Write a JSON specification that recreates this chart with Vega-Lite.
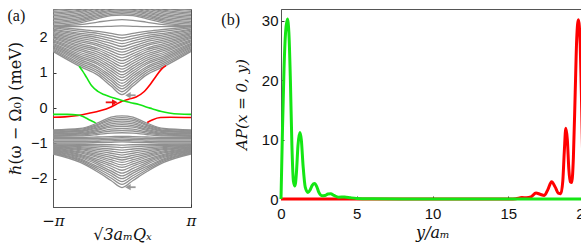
{
  "$schema": "https://vega.github.io/schema/vega-lite/v6.json",
  "padding": {"left": 6, "top": 7, "right": 0, "bottom": 0},
  "spacing": 23,
  "config": {
    "view": {"stroke": "#555", "strokeWidth": 1},
    "axis": {"grid": false, "domainColor": "#555", "tickColor": "#333", "labelColor": "#111", "titleColor": "#111", "titleFontWeight": "normal"}
  },
  "datasets": {
    "gray": [
{"g":"A1","k":-3.1416,"e":1.6},{"g":"A1","k":-1.9,"e":1.17},{"g":"A1","k":-1.1,"e":0.93},{"g":"A1","k":-0.5,"e":0.62},{"g":"A1","k":0,"e":0.38},{"g":"A1","k":0.5,"e":0.62},{"g":"A1","k":1.1,"e":0.93},{"g":"A1","k":1.9,"e":1.17},{"g":"A1","k":3.1416,"e":1.6},
{"g":"A2","k":-3.1416,"e":1.63},{"g":"A2","k":-1.9,"e":1.22},{"g":"A2","k":-1.1,"e":0.99},{"g":"A2","k":-0.5,"e":0.69},{"g":"A2","k":0,"e":0.46},{"g":"A2","k":0.5,"e":0.69},{"g":"A2","k":1.1,"e":0.99},{"g":"A2","k":1.9,"e":1.22},{"g":"A2","k":3.1416,"e":1.63},
{"g":"A3","k":-3.1416,"e":1.67},{"g":"A3","k":-1.9,"e":1.27},{"g":"A3","k":-1.1,"e":1.05},{"g":"A3","k":-0.5,"e":0.77},{"g":"A3","k":0,"e":0.54},{"g":"A3","k":0.5,"e":0.77},{"g":"A3","k":1.1,"e":1.05},{"g":"A3","k":1.9,"e":1.27},{"g":"A3","k":3.1416,"e":1.67},
{"g":"A4","k":-3.1416,"e":1.7},{"g":"A4","k":-1.9,"e":1.32},{"g":"A4","k":-1.1,"e":1.11},{"g":"A4","k":-0.5,"e":0.84},{"g":"A4","k":0,"e":0.62},{"g":"A4","k":0.5,"e":0.84},{"g":"A4","k":1.1,"e":1.11},{"g":"A4","k":1.9,"e":1.32},{"g":"A4","k":3.1416,"e":1.7},
{"g":"A5","k":-3.1416,"e":1.73},{"g":"A5","k":-1.9,"e":1.37},{"g":"A5","k":-1.1,"e":1.16},{"g":"A5","k":-0.5,"e":0.91},{"g":"A5","k":0,"e":0.7},{"g":"A5","k":0.5,"e":0.91},{"g":"A5","k":1.1,"e":1.16},{"g":"A5","k":1.9,"e":1.37},{"g":"A5","k":3.1416,"e":1.73},
{"g":"A6","k":-3.1416,"e":1.77},{"g":"A6","k":-1.9,"e":1.42},{"g":"A6","k":-1.1,"e":1.23},{"g":"A6","k":-0.5,"e":0.98},{"g":"A6","k":0,"e":0.78},{"g":"A6","k":0.5,"e":0.98},{"g":"A6","k":1.1,"e":1.23},{"g":"A6","k":1.9,"e":1.42},{"g":"A6","k":3.1416,"e":1.77},
{"g":"A7","k":-3.1416,"e":1.8},{"g":"A7","k":-1.9,"e":1.47},{"g":"A7","k":-1.1,"e":1.28},{"g":"A7","k":-0.5,"e":1.05},{"g":"A7","k":0,"e":0.86},{"g":"A7","k":0.5,"e":1.05},{"g":"A7","k":1.1,"e":1.28},{"g":"A7","k":1.9,"e":1.47},{"g":"A7","k":3.1416,"e":1.8},
{"g":"A8","k":-3.1416,"e":1.83},{"g":"A8","k":-1.9,"e":1.52},{"g":"A8","k":-1.1,"e":1.34},{"g":"A8","k":-0.5,"e":1.12},{"g":"A8","k":0,"e":0.94},{"g":"A8","k":0.5,"e":1.12},{"g":"A8","k":1.1,"e":1.34},{"g":"A8","k":1.9,"e":1.52},{"g":"A8","k":3.1416,"e":1.83},
{"g":"A9","k":-3.1416,"e":1.87},{"g":"A9","k":-1.9,"e":1.57},{"g":"A9","k":-1.1,"e":1.4},{"g":"A9","k":-0.5,"e":1.19},{"g":"A9","k":0,"e":1.02},{"g":"A9","k":0.5,"e":1.19},{"g":"A9","k":1.1,"e":1.4},{"g":"A9","k":1.9,"e":1.57},{"g":"A9","k":3.1416,"e":1.87},
{"g":"A10","k":-3.1416,"e":1.9},{"g":"A10","k":-1.9,"e":1.62},{"g":"A10","k":-1.1,"e":1.46},{"g":"A10","k":-0.5,"e":1.26},{"g":"A10","k":0,"e":1.1},{"g":"A10","k":0.5,"e":1.26},{"g":"A10","k":1.1,"e":1.46},{"g":"A10","k":1.9,"e":1.62},{"g":"A10","k":3.1416,"e":1.9},
{"g":"A11","k":-3.1416,"e":1.93},{"g":"A11","k":-1.9,"e":1.67},{"g":"A11","k":-1.1,"e":1.52},{"g":"A11","k":-0.5,"e":1.33},{"g":"A11","k":0,"e":1.18},{"g":"A11","k":0.5,"e":1.33},{"g":"A11","k":1.1,"e":1.52},{"g":"A11","k":1.9,"e":1.67},{"g":"A11","k":3.1416,"e":1.93},
{"g":"A12","k":-3.1416,"e":1.97},{"g":"A12","k":-1.9,"e":1.72},{"g":"A12","k":-1.1,"e":1.58},{"g":"A12","k":-0.5,"e":1.4},{"g":"A12","k":0,"e":1.26},{"g":"A12","k":0.5,"e":1.4},{"g":"A12","k":1.1,"e":1.58},{"g":"A12","k":1.9,"e":1.72},{"g":"A12","k":3.1416,"e":1.97},
{"g":"A13","k":-3.1416,"e":2.0},{"g":"A13","k":-1.9,"e":1.77},{"g":"A13","k":-1.1,"e":1.64},{"g":"A13","k":-0.5,"e":1.47},{"g":"A13","k":0,"e":1.34},{"g":"A13","k":0.5,"e":1.47},{"g":"A13","k":1.1,"e":1.64},{"g":"A13","k":1.9,"e":1.77},{"g":"A13","k":3.1416,"e":2.0},
{"g":"A14","k":-3.1416,"e":2.03},{"g":"A14","k":-1.9,"e":1.82},{"g":"A14","k":-1.1,"e":1.69},{"g":"A14","k":-0.5,"e":1.54},{"g":"A14","k":0,"e":1.42},{"g":"A14","k":0.5,"e":1.54},{"g":"A14","k":1.1,"e":1.69},{"g":"A14","k":1.9,"e":1.82},{"g":"A14","k":3.1416,"e":2.03},
{"g":"A15","k":-3.1416,"e":2.07},{"g":"A15","k":-1.9,"e":1.87},{"g":"A15","k":-1.1,"e":1.76},{"g":"A15","k":-0.5,"e":1.61},{"g":"A15","k":0,"e":1.5},{"g":"A15","k":0.5,"e":1.61},{"g":"A15","k":1.1,"e":1.76},{"g":"A15","k":1.9,"e":1.87},{"g":"A15","k":3.1416,"e":2.07},
{"g":"A16","k":-3.1416,"e":2.1},{"g":"A16","k":-1.9,"e":1.92},{"g":"A16","k":-1.1,"e":1.81},{"g":"A16","k":-0.5,"e":1.68},{"g":"A16","k":0,"e":1.58},{"g":"A16","k":0.5,"e":1.68},{"g":"A16","k":1.1,"e":1.81},{"g":"A16","k":1.9,"e":1.92},{"g":"A16","k":3.1416,"e":2.1},
{"g":"A17","k":-3.1416,"e":2.13},{"g":"A17","k":-1.9,"e":1.97},{"g":"A17","k":-1.1,"e":1.87},{"g":"A17","k":-0.5,"e":1.75},{"g":"A17","k":0,"e":1.66},{"g":"A17","k":0.5,"e":1.75},{"g":"A17","k":1.1,"e":1.87},{"g":"A17","k":1.9,"e":1.97},{"g":"A17","k":3.1416,"e":2.13},
{"g":"A18","k":-3.1416,"e":2.17},{"g":"A18","k":-1.9,"e":2.02},{"g":"A18","k":-1.1,"e":1.93},{"g":"A18","k":-0.5,"e":1.83},{"g":"A18","k":0,"e":1.74},{"g":"A18","k":0.5,"e":1.83},{"g":"A18","k":1.1,"e":1.93},{"g":"A18","k":1.9,"e":2.02},{"g":"A18","k":3.1416,"e":2.17},
{"g":"A19","k":-3.1416,"e":2.2},{"g":"A19","k":-1.9,"e":2.07},{"g":"A19","k":-1.1,"e":1.99},{"g":"A19","k":-0.5,"e":1.9},{"g":"A19","k":0,"e":1.82},{"g":"A19","k":0.5,"e":1.9},{"g":"A19","k":1.1,"e":1.99},{"g":"A19","k":1.9,"e":2.07},{"g":"A19","k":3.1416,"e":2.2},
{"g":"A20","k":-3.1416,"e":2.23},{"g":"A20","k":-1.9,"e":2.11},{"g":"A20","k":-1.1,"e":2.05},{"g":"A20","k":-0.5,"e":1.97},{"g":"A20","k":0,"e":1.9},{"g":"A20","k":0.5,"e":1.97},{"g":"A20","k":1.1,"e":2.05},{"g":"A20","k":1.9,"e":2.11},{"g":"A20","k":3.1416,"e":2.23},
{"g":"A21","k":-3.1416,"e":2.27},{"g":"A21","k":-1.9,"e":2.17},{"g":"A21","k":-1.1,"e":2.11},{"g":"A21","k":-0.5,"e":2.04},{"g":"A21","k":0,"e":1.98},{"g":"A21","k":0.5,"e":2.04},{"g":"A21","k":1.1,"e":2.11},{"g":"A21","k":1.9,"e":2.17},{"g":"A21","k":3.1416,"e":2.27},
{"g":"A22","k":-3.1416,"e":2.3},{"g":"A22","k":-1.9,"e":2.22},{"g":"A22","k":-1.1,"e":2.17},{"g":"A22","k":-0.5,"e":2.11},{"g":"A22","k":0,"e":2.06},{"g":"A22","k":0.5,"e":2.11},{"g":"A22","k":1.1,"e":2.17},{"g":"A22","k":1.9,"e":2.22},{"g":"A22","k":3.1416,"e":2.3},
{"g":"L1","k":-3.1416,"e":2.31},{"g":"L1","k":-1.9,"e":2.3},{"g":"L1","k":-1.1,"e":2.3},{"g":"L1","k":-0.5,"e":2.31},{"g":"L1","k":0,"e":2.32},{"g":"L1","k":0.5,"e":2.31},{"g":"L1","k":1.1,"e":2.3},{"g":"L1","k":1.9,"e":2.3},{"g":"L1","k":3.1416,"e":2.31},
{"g":"L2","k":-3.1416,"e":2.32},{"g":"L2","k":-1.9,"e":2.36},{"g":"L2","k":-1.1,"e":2.43},{"g":"L2","k":-0.5,"e":2.48},{"g":"L2","k":0,"e":2.5},{"g":"L2","k":0.5,"e":2.48},{"g":"L2","k":1.1,"e":2.43},{"g":"L2","k":1.9,"e":2.36},{"g":"L2","k":3.1416,"e":2.32},
{"g":"B1","k":-3.1416,"e":2.33},{"g":"B1","k":-1.9,"e":2.41},{"g":"B1","k":-1.1,"e":2.53},{"g":"B1","k":-0.5,"e":2.61},{"g":"B1","k":0,"e":2.63},{"g":"B1","k":0.5,"e":2.61},{"g":"B1","k":1.1,"e":2.53},{"g":"B1","k":1.9,"e":2.41},{"g":"B1","k":3.1416,"e":2.33},
{"g":"B2","k":-3.1416,"e":2.37},{"g":"B2","k":-1.9,"e":2.45},{"g":"B2","k":-1.1,"e":2.57},{"g":"B2","k":-0.5,"e":2.65},{"g":"B2","k":0,"e":2.67},{"g":"B2","k":0.5,"e":2.65},{"g":"B2","k":1.1,"e":2.57},{"g":"B2","k":1.9,"e":2.45},{"g":"B2","k":3.1416,"e":2.37},
{"g":"B3","k":-3.1416,"e":2.41},{"g":"B3","k":-1.9,"e":2.49},{"g":"B3","k":-1.1,"e":2.61},{"g":"B3","k":-0.5,"e":2.69},{"g":"B3","k":0,"e":2.71},{"g":"B3","k":0.5,"e":2.69},{"g":"B3","k":1.1,"e":2.61},{"g":"B3","k":1.9,"e":2.49},{"g":"B3","k":3.1416,"e":2.41},
{"g":"B4","k":-3.1416,"e":2.45},{"g":"B4","k":-1.9,"e":2.53},{"g":"B4","k":-1.1,"e":2.65},{"g":"B4","k":-0.5,"e":2.73},{"g":"B4","k":0,"e":2.75},{"g":"B4","k":0.5,"e":2.73},{"g":"B4","k":1.1,"e":2.65},{"g":"B4","k":1.9,"e":2.53},{"g":"B4","k":3.1416,"e":2.45},
{"g":"B5","k":-3.1416,"e":2.49},{"g":"B5","k":-1.9,"e":2.57},{"g":"B5","k":-1.1,"e":2.69},{"g":"B5","k":-0.5,"e":2.77},{"g":"B5","k":0,"e":2.79},{"g":"B5","k":0.5,"e":2.77},{"g":"B5","k":1.1,"e":2.69},{"g":"B5","k":1.9,"e":2.57},{"g":"B5","k":3.1416,"e":2.49},
{"g":"B6","k":-3.1416,"e":2.53},{"g":"B6","k":-1.9,"e":2.61},{"g":"B6","k":-1.1,"e":2.73},{"g":"B6","k":-0.5,"e":2.81},{"g":"B6","k":0,"e":2.83},{"g":"B6","k":0.5,"e":2.81},{"g":"B6","k":1.1,"e":2.73},{"g":"B6","k":1.9,"e":2.61},{"g":"B6","k":3.1416,"e":2.53},
{"g":"B7","k":-3.1416,"e":2.57},{"g":"B7","k":-1.9,"e":2.65},{"g":"B7","k":-1.1,"e":2.77},{"g":"B7","k":-0.5,"e":2.85},{"g":"B7","k":0,"e":2.87},{"g":"B7","k":0.5,"e":2.85},{"g":"B7","k":1.1,"e":2.77},{"g":"B7","k":1.9,"e":2.65},{"g":"B7","k":3.1416,"e":2.57},
{"g":"B8","k":-3.1416,"e":2.61},{"g":"B8","k":-1.9,"e":2.69},{"g":"B8","k":-1.1,"e":2.81},{"g":"B8","k":-0.5,"e":2.89},{"g":"B8","k":0,"e":2.91},{"g":"B8","k":0.5,"e":2.89},{"g":"B8","k":1.1,"e":2.81},{"g":"B8","k":1.9,"e":2.69},{"g":"B8","k":3.1416,"e":2.61},
{"g":"B9","k":-3.1416,"e":2.65},{"g":"B9","k":-1.9,"e":2.73},{"g":"B9","k":-1.1,"e":2.85},{"g":"B9","k":-0.5,"e":2.93},{"g":"B9","k":0,"e":2.95},{"g":"B9","k":0.5,"e":2.93},{"g":"B9","k":1.1,"e":2.85},{"g":"B9","k":1.9,"e":2.73},{"g":"B9","k":3.1416,"e":2.65},
{"g":"B10","k":-3.1416,"e":2.69},{"g":"B10","k":-1.9,"e":2.77},{"g":"B10","k":-1.1,"e":2.89},{"g":"B10","k":-0.5,"e":2.97},{"g":"B10","k":0,"e":2.99},{"g":"B10","k":0.5,"e":2.97},{"g":"B10","k":1.1,"e":2.89},{"g":"B10","k":1.9,"e":2.77},{"g":"B10","k":3.1416,"e":2.69},
{"g":"B11","k":-3.1416,"e":2.73},{"g":"B11","k":-1.9,"e":2.81},{"g":"B11","k":-1.1,"e":2.93},{"g":"B11","k":-0.5,"e":3.01},{"g":"B11","k":0,"e":3.03},{"g":"B11","k":0.5,"e":3.01},{"g":"B11","k":1.1,"e":2.93},{"g":"B11","k":1.9,"e":2.81},{"g":"B11","k":3.1416,"e":2.73},
{"g":"B12","k":-3.1416,"e":2.77},{"g":"B12","k":-1.9,"e":2.85},{"g":"B12","k":-1.1,"e":2.97},{"g":"B12","k":-0.5,"e":3.05},{"g":"B12","k":0,"e":3.07},{"g":"B12","k":0.5,"e":3.05},{"g":"B12","k":1.1,"e":2.97},{"g":"B12","k":1.9,"e":2.85},{"g":"B12","k":3.1416,"e":2.77},
{"g":"B13","k":-3.1416,"e":2.81},{"g":"B13","k":-1.9,"e":2.89},{"g":"B13","k":-1.1,"e":3.01},{"g":"B13","k":-0.5,"e":3.09},{"g":"B13","k":0,"e":3.11},{"g":"B13","k":0.5,"e":3.09},{"g":"B13","k":1.1,"e":3.01},{"g":"B13","k":1.9,"e":2.89},{"g":"B13","k":3.1416,"e":2.81},
{"g":"D1","k":-3.1416,"e":-0.62},{"g":"D1","k":-1.9,"e":-0.58},{"g":"D1","k":-1.1,"e":-0.42},{"g":"D1","k":-0.5,"e":-0.26},{"g":"D1","k":0,"e":-0.22},{"g":"D1","k":0.5,"e":-0.26},{"g":"D1","k":1.1,"e":-0.42},{"g":"D1","k":1.9,"e":-0.58},{"g":"D1","k":3.1416,"e":-0.62},
{"g":"D2","k":-3.1416,"e":-0.64},{"g":"D2","k":-1.9,"e":-0.6},{"g":"D2","k":-1.1,"e":-0.46},{"g":"D2","k":-0.5,"e":-0.31},{"g":"D2","k":0,"e":-0.27},{"g":"D2","k":0.5,"e":-0.31},{"g":"D2","k":1.1,"e":-0.46},{"g":"D2","k":1.9,"e":-0.6},{"g":"D2","k":3.1416,"e":-0.64},
{"g":"D3","k":-3.1416,"e":-0.66},{"g":"D3","k":-1.9,"e":-0.63},{"g":"D3","k":-1.1,"e":-0.49},{"g":"D3","k":-0.5,"e":-0.35},{"g":"D3","k":0,"e":-0.32},{"g":"D3","k":0.5,"e":-0.35},{"g":"D3","k":1.1,"e":-0.49},{"g":"D3","k":1.9,"e":-0.63},{"g":"D3","k":3.1416,"e":-0.66},
{"g":"D4","k":-3.1416,"e":-0.68},{"g":"D4","k":-1.9,"e":-0.65},{"g":"D4","k":-1.1,"e":-0.53},{"g":"D4","k":-0.5,"e":-0.4},{"g":"D4","k":0,"e":-0.37},{"g":"D4","k":0.5,"e":-0.4},{"g":"D4","k":1.1,"e":-0.53},{"g":"D4","k":1.9,"e":-0.65},{"g":"D4","k":3.1416,"e":-0.68},
{"g":"D5","k":-3.1416,"e":-0.7},{"g":"D5","k":-1.9,"e":-0.67},{"g":"D5","k":-1.1,"e":-0.56},{"g":"D5","k":-0.5,"e":-0.45},{"g":"D5","k":0,"e":-0.42},{"g":"D5","k":0.5,"e":-0.45},{"g":"D5","k":1.1,"e":-0.56},{"g":"D5","k":1.9,"e":-0.67},{"g":"D5","k":3.1416,"e":-0.7},
{"g":"D6","k":-3.1416,"e":-0.72},{"g":"D6","k":-1.9,"e":-0.7},{"g":"D6","k":-1.1,"e":-0.6},{"g":"D6","k":-0.5,"e":-0.5},{"g":"D6","k":0,"e":-0.47},{"g":"D6","k":0.5,"e":-0.5},{"g":"D6","k":1.1,"e":-0.6},{"g":"D6","k":1.9,"e":-0.7},{"g":"D6","k":3.1416,"e":-0.72},
{"g":"D7","k":-3.1416,"e":-0.74},{"g":"D7","k":-1.9,"e":-0.72},{"g":"D7","k":-1.1,"e":-0.63},{"g":"D7","k":-0.5,"e":-0.54},{"g":"D7","k":0,"e":-0.52},{"g":"D7","k":0.5,"e":-0.54},{"g":"D7","k":1.1,"e":-0.63},{"g":"D7","k":1.9,"e":-0.72},{"g":"D7","k":3.1416,"e":-0.74},
{"g":"D8","k":-3.1416,"e":-0.76},{"g":"D8","k":-1.9,"e":-0.74},{"g":"D8","k":-1.1,"e":-0.67},{"g":"D8","k":-0.5,"e":-0.6},{"g":"D8","k":0,"e":-0.58},{"g":"D8","k":0.5,"e":-0.6},{"g":"D8","k":1.1,"e":-0.67},{"g":"D8","k":1.9,"e":-0.74},{"g":"D8","k":3.1416,"e":-0.76},
{"g":"D9","k":-3.1416,"e":-0.78},{"g":"D9","k":-1.9,"e":-0.77},{"g":"D9","k":-1.1,"e":-0.71},{"g":"D9","k":-0.5,"e":-0.65},{"g":"D9","k":0,"e":-0.64},{"g":"D9","k":0.5,"e":-0.65},{"g":"D9","k":1.1,"e":-0.71},{"g":"D9","k":1.9,"e":-0.77},{"g":"D9","k":3.1416,"e":-0.78},
{"g":"D10","k":-3.1416,"e":-0.8},{"g":"D10","k":-1.9,"e":-0.79},{"g":"D10","k":-1.1,"e":-0.75},{"g":"D10","k":-0.5,"e":-0.71},{"g":"D10","k":0,"e":-0.7},{"g":"D10","k":0.5,"e":-0.71},{"g":"D10","k":1.1,"e":-0.75},{"g":"D10","k":1.9,"e":-0.79},{"g":"D10","k":3.1416,"e":-0.8},
{"g":"E1","k":-3.1416,"e":-0.83},{"g":"E1","k":-1.9,"e":-0.83},{"g":"E1","k":-1.1,"e":-0.82},{"g":"E1","k":-0.5,"e":-0.81},{"g":"E1","k":0,"e":-0.8},{"g":"E1","k":0.5,"e":-0.81},{"g":"E1","k":1.1,"e":-0.82},{"g":"E1","k":1.9,"e":-0.83},{"g":"E1","k":3.1416,"e":-0.83},
{"g":"E2","k":-3.1416,"e":-0.87},{"g":"E2","k":-1.9,"e":-0.87},{"g":"E2","k":-1.1,"e":-0.86},{"g":"E2","k":-0.5,"e":-0.85},{"g":"E2","k":0,"e":-0.84},{"g":"E2","k":0.5,"e":-0.85},{"g":"E2","k":1.1,"e":-0.86},{"g":"E2","k":1.9,"e":-0.87},{"g":"E2","k":3.1416,"e":-0.87},
{"g":"E3","k":-3.1416,"e":-0.91},{"g":"E3","k":-1.9,"e":-0.91},{"g":"E3","k":-1.1,"e":-0.9},{"g":"E3","k":-0.5,"e":-0.89},{"g":"E3","k":0,"e":-0.88},{"g":"E3","k":0.5,"e":-0.89},{"g":"E3","k":1.1,"e":-0.9},{"g":"E3","k":1.9,"e":-0.91},{"g":"E3","k":3.1416,"e":-0.91},
{"g":"E4","k":-3.1416,"e":-0.95},{"g":"E4","k":-1.9,"e":-0.95},{"g":"E4","k":-1.1,"e":-0.94},{"g":"E4","k":-0.5,"e":-0.93},{"g":"E4","k":0,"e":-0.92},{"g":"E4","k":0.5,"e":-0.93},{"g":"E4","k":1.1,"e":-0.94},{"g":"E4","k":1.9,"e":-0.95},{"g":"E4","k":3.1416,"e":-0.95},
{"g":"E5","k":-3.1416,"e":-0.99},{"g":"E5","k":-1.9,"e":-0.99},{"g":"E5","k":-1.1,"e":-0.98},{"g":"E5","k":-0.5,"e":-0.97},{"g":"E5","k":0,"e":-0.96},{"g":"E5","k":0.5,"e":-0.97},{"g":"E5","k":1.1,"e":-0.98},{"g":"E5","k":1.9,"e":-0.99},{"g":"E5","k":3.1416,"e":-0.99},
{"g":"C1","k":-3.1416,"e":-1.02},{"g":"C1","k":-1.9,"e":-1.03},{"g":"C1","k":-1.1,"e":-1.04},{"g":"C1","k":-0.5,"e":-1.04},{"g":"C1","k":0,"e":-1.05},{"g":"C1","k":0.5,"e":-1.04},{"g":"C1","k":1.1,"e":-1.04},{"g":"C1","k":1.9,"e":-1.03},{"g":"C1","k":3.1416,"e":-1.02},
{"g":"C2","k":-3.1416,"e":-1.04},{"g":"C2","k":-1.9,"e":-1.06},{"g":"C2","k":-1.1,"e":-1.08},{"g":"C2","k":-0.5,"e":-1.1},{"g":"C2","k":0,"e":-1.12},{"g":"C2","k":0.5,"e":-1.1},{"g":"C2","k":1.1,"e":-1.08},{"g":"C2","k":1.9,"e":-1.06},{"g":"C2","k":3.1416,"e":-1.04},
{"g":"C3","k":-3.1416,"e":-1.06},{"g":"C3","k":-1.9,"e":-1.09},{"g":"C3","k":-1.1,"e":-1.13},{"g":"C3","k":-0.5,"e":-1.16},{"g":"C3","k":0,"e":-1.19},{"g":"C3","k":0.5,"e":-1.16},{"g":"C3","k":1.1,"e":-1.13},{"g":"C3","k":1.9,"e":-1.09},{"g":"C3","k":3.1416,"e":-1.06},
{"g":"C4","k":-3.1416,"e":-1.07},{"g":"C4","k":-1.9,"e":-1.12},{"g":"C4","k":-1.1,"e":-1.17},{"g":"C4","k":-0.5,"e":-1.22},{"g":"C4","k":0,"e":-1.26},{"g":"C4","k":0.5,"e":-1.22},{"g":"C4","k":1.1,"e":-1.17},{"g":"C4","k":1.9,"e":-1.12},{"g":"C4","k":3.1416,"e":-1.07},
{"g":"C5","k":-3.1416,"e":-1.09},{"g":"C5","k":-1.9,"e":-1.15},{"g":"C5","k":-1.1,"e":-1.22},{"g":"C5","k":-0.5,"e":-1.28},{"g":"C5","k":0,"e":-1.33},{"g":"C5","k":0.5,"e":-1.28},{"g":"C5","k":1.1,"e":-1.22},{"g":"C5","k":1.9,"e":-1.15},{"g":"C5","k":3.1416,"e":-1.09},
{"g":"C6","k":-3.1416,"e":-1.11},{"g":"C6","k":-1.9,"e":-1.18},{"g":"C6","k":-1.1,"e":-1.27},{"g":"C6","k":-0.5,"e":-1.34},{"g":"C6","k":0,"e":-1.4},{"g":"C6","k":0.5,"e":-1.34},{"g":"C6","k":1.1,"e":-1.27},{"g":"C6","k":1.9,"e":-1.18},{"g":"C6","k":3.1416,"e":-1.11},
{"g":"C7","k":-3.1416,"e":-1.13},{"g":"C7","k":-1.9,"e":-1.21},{"g":"C7","k":-1.1,"e":-1.31},{"g":"C7","k":-0.5,"e":-1.4},{"g":"C7","k":0,"e":-1.47},{"g":"C7","k":0.5,"e":-1.4},{"g":"C7","k":1.1,"e":-1.31},{"g":"C7","k":1.9,"e":-1.21},{"g":"C7","k":3.1416,"e":-1.13},
{"g":"C8","k":-3.1416,"e":-1.14},{"g":"C8","k":-1.9,"e":-1.24},{"g":"C8","k":-1.1,"e":-1.36},{"g":"C8","k":-0.5,"e":-1.46},{"g":"C8","k":0,"e":-1.54},{"g":"C8","k":0.5,"e":-1.46},{"g":"C8","k":1.1,"e":-1.36},{"g":"C8","k":1.9,"e":-1.24},{"g":"C8","k":3.1416,"e":-1.14},
{"g":"C9","k":-3.1416,"e":-1.16},{"g":"C9","k":-1.9,"e":-1.27},{"g":"C9","k":-1.1,"e":-1.4},{"g":"C9","k":-0.5,"e":-1.52},{"g":"C9","k":0,"e":-1.61},{"g":"C9","k":0.5,"e":-1.52},{"g":"C9","k":1.1,"e":-1.4},{"g":"C9","k":1.9,"e":-1.27},{"g":"C9","k":3.1416,"e":-1.16},
{"g":"C10","k":-3.1416,"e":-1.18},{"g":"C10","k":-1.9,"e":-1.31},{"g":"C10","k":-1.1,"e":-1.45},{"g":"C10","k":-0.5,"e":-1.58},{"g":"C10","k":0,"e":-1.68},{"g":"C10","k":0.5,"e":-1.58},{"g":"C10","k":1.1,"e":-1.45},{"g":"C10","k":1.9,"e":-1.31},{"g":"C10","k":3.1416,"e":-1.18},
{"g":"C11","k":-3.1416,"e":-1.2},{"g":"C11","k":-1.9,"e":-1.34},{"g":"C11","k":-1.1,"e":-1.5},{"g":"C11","k":-0.5,"e":-1.64},{"g":"C11","k":0,"e":-1.76},{"g":"C11","k":0.5,"e":-1.64},{"g":"C11","k":1.1,"e":-1.5},{"g":"C11","k":1.9,"e":-1.34},{"g":"C11","k":3.1416,"e":-1.2},
{"g":"C12","k":-3.1416,"e":-1.21},{"g":"C12","k":-1.9,"e":-1.37},{"g":"C12","k":-1.1,"e":-1.55},{"g":"C12","k":-0.5,"e":-1.71},{"g":"C12","k":0,"e":-1.84},{"g":"C12","k":0.5,"e":-1.71},{"g":"C12","k":1.1,"e":-1.55},{"g":"C12","k":1.9,"e":-1.37},{"g":"C12","k":3.1416,"e":-1.21},
{"g":"C13","k":-3.1416,"e":-1.23},{"g":"C13","k":-1.9,"e":-1.4},{"g":"C13","k":-1.1,"e":-1.6},{"g":"C13","k":-0.5,"e":-1.78},{"g":"C13","k":0,"e":-1.92},{"g":"C13","k":0.5,"e":-1.78},{"g":"C13","k":1.1,"e":-1.6},{"g":"C13","k":1.9,"e":-1.4},{"g":"C13","k":3.1416,"e":-1.23},
{"g":"C14","k":-3.1416,"e":-1.25},{"g":"C14","k":-1.9,"e":-1.44},{"g":"C14","k":-1.1,"e":-1.66},{"g":"C14","k":-0.5,"e":-1.84},{"g":"C14","k":0,"e":-2.0},{"g":"C14","k":0.5,"e":-1.84},{"g":"C14","k":1.1,"e":-1.66},{"g":"C14","k":1.9,"e":-1.44},{"g":"C14","k":3.1416,"e":-1.25},
{"g":"C15","k":-3.1416,"e":-1.27},{"g":"C15","k":-1.9,"e":-1.47},{"g":"C15","k":-1.1,"e":-1.71},{"g":"C15","k":-0.5,"e":-1.91},{"g":"C15","k":0,"e":-2.08},{"g":"C15","k":0.5,"e":-1.91},{"g":"C15","k":1.1,"e":-1.71},{"g":"C15","k":1.9,"e":-1.47},{"g":"C15","k":3.1416,"e":-1.27},
{"g":"C16","k":-3.1416,"e":-1.28},{"g":"C16","k":-1.9,"e":-1.5},{"g":"C16","k":-1.1,"e":-1.76},{"g":"C16","k":-0.5,"e":-1.98},{"g":"C16","k":0,"e":-2.16},{"g":"C16","k":0.5,"e":-1.98},{"g":"C16","k":1.1,"e":-1.76},{"g":"C16","k":1.9,"e":-1.5},{"g":"C16","k":3.1416,"e":-1.28},
{"g":"C17","k":-3.1416,"e":-1.3},{"g":"C17","k":-1.9,"e":-1.54},{"g":"C17","k":-1.1,"e":-1.81},{"g":"C17","k":-0.5,"e":-2.05},{"g":"C17","k":0,"e":-2.25},{"g":"C17","k":0.5,"e":-2.05},{"g":"C17","k":1.1,"e":-1.81},{"g":"C17","k":1.9,"e":-1.54},{"g":"C17","k":3.1416,"e":-1.3}
    ],
    "edge": [
{"s":"r1","c":"r","k":-3.1416,"e":-0.26},{"s":"r1","c":"r","k":-2.6,"e":-0.25},{"s":"r1","c":"r","k":-2.0,"e":-0.21},{"s":"r1","c":"r","k":-1.5,"e":-0.15},{"s":"r1","c":"r","k":-1.0,"e":-0.08},{"s":"r1","c":"r","k":-0.5,"e":0.03},{"s":"r1","c":"r","k":-0.25,"e":0.11},{"s":"r1","c":"r","k":0,"e":0.19},{"s":"r1","c":"r","k":0.3,"e":0.25},{"s":"r1","c":"r","k":0.64,"e":0.31},{"s":"r1","c":"r","k":1.0,"e":0.46},{"s":"r1","c":"r","k":1.3,"e":0.68},{"s":"r1","c":"r","k":1.55,"e":0.9},{"s":"r1","c":"r","k":1.8,"e":1.1},{"s":"r1","c":"r","k":2.0,"e":1.2},
{"s":"r2","c":"r","k":1.15,"e":-0.41},{"s":"r2","c":"r","k":1.4,"e":-0.33},{"s":"r2","c":"r","k":1.75,"e":-0.27},{"s":"r2","c":"r","k":2.2,"e":-0.26},{"s":"r2","c":"r","k":3.1416,"e":-0.27},
{"s":"g1","c":"g","k":-1.95,"e":1.18},{"s":"g1","c":"g","k":-1.8,"e":1.05},{"s":"g1","c":"g","k":-1.6,"e":0.85},{"s":"g1","c":"g","k":-1.37,"e":0.62},{"s":"g1","c":"g","k":-1.1,"e":0.47},{"s":"g1","c":"g","k":-0.82,"e":0.38},{"s":"g1","c":"g","k":-0.4,"e":0.29},{"s":"g1","c":"g","k":0,"e":0.21},{"s":"g1","c":"g","k":0.4,"e":0.15},{"s":"g1","c":"g","k":0.77,"e":0.1},{"s":"g1","c":"g","k":1.1,"e":0.03},{"s":"g1","c":"g","k":1.37,"e":-0.02},{"s":"g1","c":"g","k":1.8,"e":-0.1},{"s":"g1","c":"g","k":2.14,"e":-0.14},{"s":"g1","c":"g","k":2.6,"e":-0.17},{"s":"g1","c":"g","k":3.1416,"e":-0.18},
{"s":"g2","c":"g","k":-3.1416,"e":-0.18},{"s":"g2","c":"g","k":-2.5,"e":-0.18},{"s":"g2","c":"g","k":-2.0,"e":-0.2},{"s":"g2","c":"g","k":-1.75,"e":-0.25},{"s":"g2","c":"g","k":-1.5,"e":-0.33},{"s":"g2","c":"g","k":-1.2,"e":-0.42}
    ],
    "arrows": [
      {"a":"r","k1":-0.74,"k2":-0.33,"e":0.16},
      {"a":"g","k1":0.62,"k2":0.27,"e":0.36},
      {"a":"g","k1":0.62,"k2":0.27,"e":-2.24}
    ],
    "apr": [
{"y":0,"v":0},{"y":15,"v":0},{"y":15.5,"v":0.05},{"y":15.9,"v":0.25},{"y":16.2,"v":0.2},{"y":16.5,"v":0.35},{"y":16.83,"v":1.0},{"y":17.1,"v":0.8},{"y":17.38,"v":0.6},{"y":17.6,"v":1.5},{"y":17.86,"v":2.9},{"y":18.1,"v":2.0},{"y":18.3,"v":1.0},{"y":18.47,"v":0.9},{"y":18.6,"v":3},{"y":18.7,"v":8},{"y":18.8,"v":11.9},{"y":18.9,"v":10},{"y":19.0,"v":5},{"y":19.1,"v":2.9},{"y":19.19,"v":2.8},{"y":19.3,"v":7},{"y":19.42,"v":18},{"y":19.52,"v":27},{"y":19.63,"v":30.2},{"y":19.75,"v":26},{"y":19.85,"v":15},{"y":19.93,"v":5},{"y":20,"v":0}
    ],
    "apg": [
{"y":0,"v":0},{"y":0.1,"v":12},{"y":0.2,"v":22},{"y":0.3,"v":28},{"y":0.42,"v":30.3},{"y":0.52,"v":28},{"y":0.62,"v":20},{"y":0.72,"v":9},{"y":0.82,"v":3},{"y":0.92,"v":2.2},{"y":1.02,"v":4.5},{"y":1.12,"v":9},{"y":1.24,"v":11.2},{"y":1.34,"v":10},{"y":1.46,"v":5.5},{"y":1.6,"v":2},{"y":1.78,"v":1.1},{"y":1.92,"v":1.5},{"y":2.06,"v":2.3},{"y":2.22,"v":2.6},{"y":2.36,"v":2.1},{"y":2.5,"v":1.1},{"y":2.7,"v":0.55},{"y":2.9,"v":0.6},{"y":3.1,"v":0.85},{"y":3.28,"v":0.9},{"y":3.5,"v":0.6},{"y":3.8,"v":0.3},{"y":4.2,"v":0.35},{"y":4.6,"v":0.2},{"y":5,"v":0.1},{"y":6,"v":0.05},{"y":8,"v":0.02},{"y":20,"v":0}
    ]
  },
  "hconcat": [
    {
      "width": 138,
      "height": 198,
      "title": {"text": "(a)", "anchor": "start", "frame": "bounds", "baseline": "top", "offset": -15, "font": "Liberation Serif", "fontSize": 16, "fontWeight": "normal", "color": "#111"},
      "layer": [
        {
          "data": {"name": "gray"},
          "mark": {"type": "line", "color": "#909090", "strokeWidth": 1.3, "interpolate": "monotone", "clip": true},
          "encoding": {
            "x": {"field": "k", "type": "quantitative", "scale": {"domain": [-3.1416, 3.1416], "nice": false, "zero": false},
              "axis": {"values": [-3.1416, 3.1416], "labelExpr": "datum.value < 0 ? '−π' : 'π'", "labelFont": "DejaVu Serif", "labelFontStyle": "italic", "labelFontSize": 15, "labelFlush": false, "labelPadding": 9, "tickSize": -3, "title": "√3aₘQₓ", "titleFont": "DejaVu Serif", "titleFontStyle": "italic", "titleFontSize": 16, "titlePadding": -2}},
            "y": {"field": "e", "type": "quantitative", "scale": {"domain": [-2.8, 2.8], "nice": false, "zero": false},
              "axis": {"values": [-2, -1, 0, 1, 2], "labelFont": "Liberation Sans", "labelFontSize": 14.5, "labelPadding": 9, "tickSize": -3, "title": "ℏ(ω − Ω₀) (meV)", "titleFont": "DejaVu Serif", "titleFontSize": 16, "titlePadding": 7}},
            "detail": {"field": "g"}
          }
        },
        {
          "mark": {"type": "rule", "color": "#555", "strokeWidth": 1},
          "encoding": {"x": {"datum": 0}}
        },
        {
          "data": {"name": "edge"},
          "mark": {"type": "line", "strokeWidth": 1.6, "interpolate": "monotone", "clip": true},
          "encoding": {
            "x": {"field": "k", "type": "quantitative"},
            "y": {"field": "e", "type": "quantitative"},
            "detail": {"field": "s"},
            "color": {"field": "c", "type": "nominal", "scale": {"domain": ["r", "g"], "range": ["#ff0000", "#14e614"]}, "legend": null}
          }
        },
        {
          "data": {"name": "arrows"},
          "mark": {"type": "rule", "strokeWidth": 1.8},
          "encoding": {
            "x": {"field": "k1", "type": "quantitative"},
            "x2": {"field": "k2"},
            "y": {"field": "e", "type": "quantitative"},
            "color": {"field": "a", "type": "nominal", "scale": {"domain": ["r", "g"], "range": ["#ee1111", "#9a9a9a"]}, "legend": null}
          }
        },
        {
          "data": {"name": "arrows"},
          "mark": {"type": "point", "filled": true, "opacity": 1, "size": 40},
          "encoding": {
            "x": {"field": "k2", "type": "quantitative"},
            "y": {"field": "e", "type": "quantitative"},
            "shape": {"field": "a", "type": "nominal", "scale": {"domain": ["r", "g"], "range": ["triangle-right", "triangle-left"]}, "legend": null},
            "color": {"field": "a", "type": "nominal", "scale": {"domain": ["r", "g"], "range": ["#ee1111", "#9a9a9a"]}, "legend": null}
          }
        }
      ],
      "resolve": {"scale": {"color": "independent"}}
    },
    {
      "width": 303,
      "height": 190,
      "title": {"text": "(b)", "anchor": "start", "frame": "bounds", "baseline": "top", "offset": -19, "dx": -13, "font": "Liberation Serif", "fontSize": 16, "fontWeight": "normal", "color": "#111"},
      "layer": [
        {
          "data": {"name": "apr"},
          "mark": {"type": "line", "strokeWidth": 3, "interpolate": "monotone", "color": "#ff0000"},
          "encoding": {
            "x": {"field": "y", "type": "quantitative", "scale": {"domain": [0, 20], "nice": false},
              "axis": {"values": [0, 5, 10, 15, 20], "labelFont": "Liberation Sans", "labelFontSize": 15, "labelFlush": false, "labelPadding": 10, "tickSize": -3, "title": "y/aₘ", "titleFont": "DejaVu Serif", "titleFontStyle": "italic", "titleFontSize": 16, "titlePadding": 3}},
            "y": {"field": "v", "type": "quantitative", "scale": {"domain": [0, 32], "nice": false},
              "axis": {"values": [0, 10, 20, 30], "labelFont": "Liberation Sans", "labelFontSize": 15, "labelPadding": 6, "tickSize": -3, "title": "AP(x = 0, y)", "titleFont": "DejaVu Serif", "titleFontStyle": "italic", "titleFontSize": 15, "titlePadding": 12}}
          }
        },
        {
          "data": {"name": "apg"},
          "mark": {"type": "line", "strokeWidth": 3, "interpolate": "monotone", "color": "#14e614"},
          "encoding": {
            "x": {"field": "y", "type": "quantitative"},
            "y": {"field": "v", "type": "quantitative"}
          }
        }
      ]
    }
  ]
}
